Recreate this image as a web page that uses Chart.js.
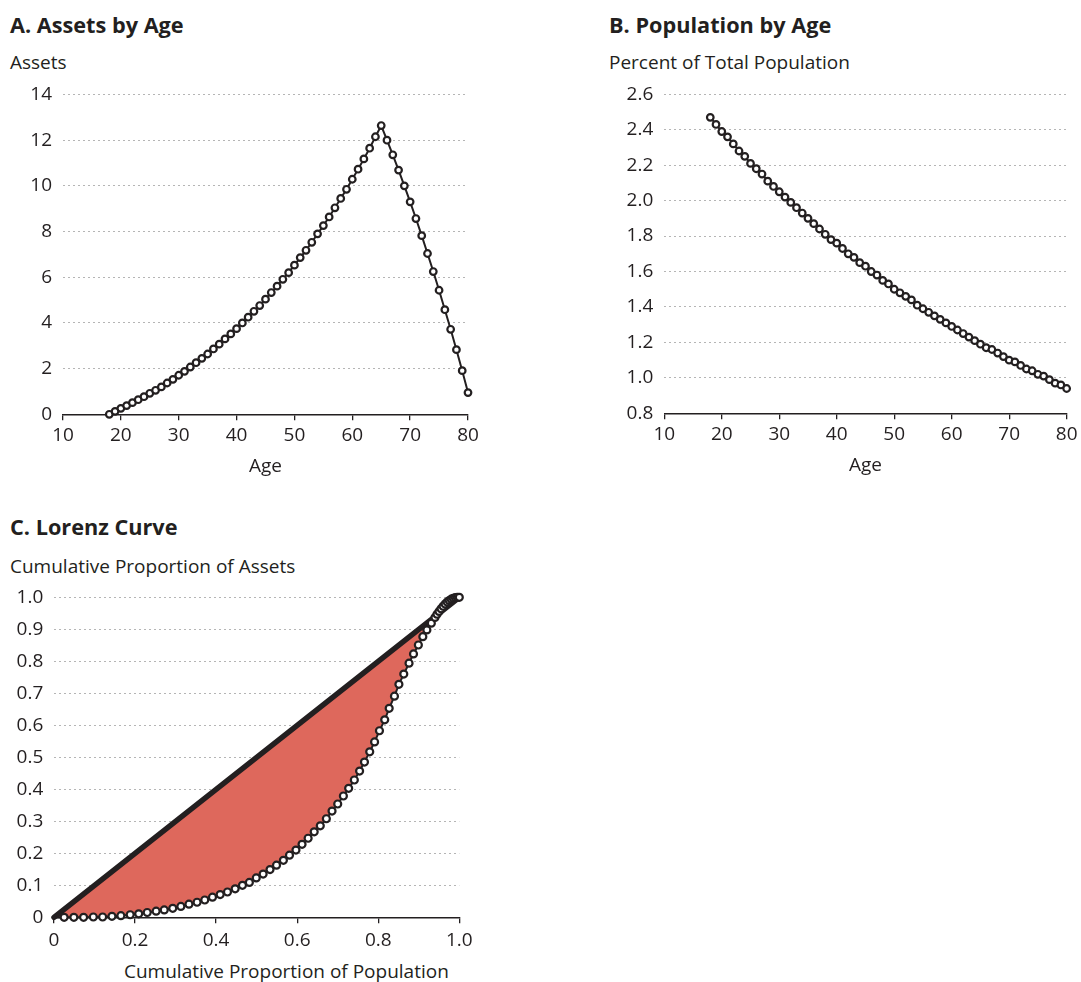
<!DOCTYPE html>
<html>
<head>
<meta charset="utf-8">
<script src="https://cdn.jsdelivr.net/npm/chart.js@4.4.1/dist/chart.umd.min.js"></script>
<style>
  html, body { margin:0; padding:0; background:#fff; }
  body { width:1081px; height:982px; position:relative; overflow:hidden; font-family:'Open Sans', sans-serif; color:#231f20; }
  .t { position:absolute; white-space:nowrap; line-height:26px; }
  .h { font-weight:700; font-size:21.7px; }
  .s { font-size:19px; }
  .box { position:absolute; }
</style>
</head>
<body>
<div class="t h" style="left:10px; top:12px;">A. Assets by Age</div>
<div class="t s" style="left:10px; top:49px;">Assets</div>
<div class="t h" style="left:609px; top:12px;">B. Population by Age</div>
<div class="t s" style="left:609px; top:49px;">Percent of Total Population</div>
<div class="t h" style="left:10px; top:514px;">C. Lorenz Curve</div>
<div class="t s" style="left:10px; top:553px;">Cumulative Proportion of Assets</div>
<div class="t s" style="left:124px; top:958px;">Cumulative Proportion of Population</div>

<div class="box" style="left:0px; top:80px; width:490px; height:410px;"><canvas id="cA"></canvas></div>
<div class="box" style="left:600px; top:80px; width:481px; height:410px;"><canvas id="cB"></canvas></div>
<div class="box" style="left:0px; top:580px; width:490px; height:377.3px;"><canvas id="cC"></canvas></div>

<script>
// ---------- Data ----------
const ages = [18,19,20,21,22,23,24,25,26,27,28,29,30,31,32,33,34,35,36,37,38,39,40,41,42,43,44,45,46,47,48,49,
  50,51,52,53,54,55,56,57,58,59,60,61,62,63,64,65,66,67,68,69,70,71,72,73,74,75,76,77,78,79,80];

const assets = [0,0.13,0.26,0.38,0.51,0.64,0.77,0.92,1.05,1.2,1.37,1.53,1.71,1.88,2.07,2.26,2.45,2.64,2.86,3.07,
  3.3,3.52,3.75,4.0,4.25,4.51,4.76,5.04,5.33,5.61,5.91,6.2,6.53,6.86,7.18,7.53,7.9,8.26,8.64,9.04,9.45,9.85,
  10.29,10.73,11.18,11.65,12.15,12.64,12.0,11.36,10.69,10.0,9.3,8.57,7.82,7.04,6.25,5.43,4.58,3.72,2.83,1.91,0.95];

const population = [2.47,2.43,2.39,2.36,2.32,2.28,2.25,2.21,2.18,2.15,2.11,2.08,2.05,2.02,1.99,1.96,1.93,1.90,
  1.87,1.84,1.81,1.78,1.76,1.73,1.70,1.68,1.65,1.63,1.60,1.58,1.55,1.53,1.50,1.48,1.46,1.44,1.41,1.39,1.37,1.35,
  1.33,1.31,1.29,1.27,1.25,1.23,1.21,1.19,1.17,1.16,1.14,1.12,1.10,1.09,1.07,1.05,1.04,1.02,1.01,0.99,0.97,0.96,0.94];

const lorenzX = [0,0.025,0.049,0.073,0.097,0.120,0.143,0.165,0.188,0.209,0.230,0.252,0.272,0.293,0.313,0.333,
  0.353,0.372,0.391,0.410,0.428,0.447,0.465,0.482,0.499,0.516,0.533,0.549,0.566,0.581,0.597,0.612,0.627,0.642,
  0.657,0.672,0.686,0.700,0.714,0.727,0.741,0.754,0.766,0.779,0.791,0.803,0.816,0.827,0.840,0.851,0.863,0.876,
  0.887,0.899,0.910,0.920,0.931,0.940,0.945,0.950,0.955,0.960,0.965,0.970,0.975,0.980,0.985,0.990,0.995,1.0];
const lorenzY = [0,0,0,0,0.001,0.001,0.003,0.005,0.008,0.011,0.015,0.019,0.023,0.028,0.034,0.041,
  0.047,0.054,0.063,0.071,0.079,0.089,0.100,0.109,0.123,0.135,0.149,0.163,0.178,0.194,0.210,0.228,0.247,0.267,
  0.286,0.308,0.332,0.354,0.379,0.403,0.429,0.457,0.485,0.517,0.548,0.583,0.617,0.653,0.691,0.728,0.760,0.794,
  0.823,0.851,0.877,0.898,0.919,0.937,0.947,0.956,0.964,0.972,0.979,0.985,0.990,0.994,0.997,0.999,1.0,1.0];

const equalityX = [0, 1];
const equalityY = [0, 1];

const ticksA_x = {min:10, max:80, step:10};
const ticksA_y = {min:0, max:14, step:2};
const ticksB_y = {min:0.8, max:2.6, step:0.2};
const ticksC = {min:0, max:1, stepX:0.2, stepY:0.1};

// ---------- Styles ----------
const INK = '#231f20';
const GRID = '#b5b5b5';
const FONT = "'Open Sans', sans-serif";
const RED = '#de685c';
const tickFont = {family: FONT, size: 19};

function pts(xs, ys) { return xs.map((x, i) => ({x: x, y: ys[i]})); }

function xScale(min, max, step, fmt, title, fitH, pad) {
  return {
    type: 'linear', min: min, max: max,
    afterFit: s => { s.height = fitH; },
    ticks: {stepSize: step, color: INK, font: tickFont, padding: pad, callback: fmt, maxRotation: 0, autoSkip: false},
    grid: {display: true, drawOnChartArea: false, drawTicks: true, tickLength: 6, color: INK, lineWidth: 1.3},
    border: {display: true, color: INK, width: 1.5},
    title: title ? {display: true, text: title, color: INK, font: {family: FONT, size: 19}, padding: 0} : {display: false}
  };
}
function yScale(min, max, step, fmt, fitW, pad) {
  return {
    type: 'linear', min: min, max: max,
    afterFit: s => { s.width = fitW; s.paddingTop = 0; s.paddingBottom = 0; },
    ticks: {stepSize: step, color: INK, font: tickFont, padding: pad, callback: fmt, autoSkip: false},
    grid: {color: GRID, lineWidth: 1, drawTicks: false},
    border: {display: false, dash: [2, 3]}
  };
}
const baseOpts = (layoutPad, scales) => ({
  responsive: true, maintainAspectRatio: false, animation: false, events: [],
  layout: {padding: layoutPad},
  plugins: {legend: {display: false}, tooltip: {enabled: false}, filler: {drawTime: 'beforeDatasetsDraw'}},
  scales: scales
});
const markerDS = (data) => ({
  data: data, borderColor: INK, borderWidth: 2, pointRadius: 3.3, pointBorderWidth: 2.2,
  pointBackgroundColor: '#fff', pointBorderColor: INK, fill: false, tension: 0, clip: false
});

// ---------- Chart A ----------
new Chart(document.getElementById('cA'), {
  type: 'line',
  data: {datasets: [markerDS(pts(ages, assets))]},
  options: baseOpts({left: 0, right: 22, top: 14.5, bottom: 11.7}, {
    x: xScale(ticksA_x.min, ticksA_x.max, ticksA_x.step, v => String(v), 'Age', 64, 3.5),
    y: yScale(ticksA_y.min, ticksA_y.max, ticksA_y.step, v => String(v), 63, 11)
  })
});

// ---------- Chart B ----------
new Chart(document.getElementById('cB'), {
  type: 'line',
  data: {datasets: [markerDS(pts(ages, population))]},
  options: baseOpts({left: 0, right: 11.7, top: 14.3, bottom: 12.7}, {
    x: xScale(ticksA_x.min, ticksA_x.max, ticksA_x.step, v => String(v), 'Age', 64, 3.5),
    y: yScale(ticksB_y.min, ticksB_y.max, ticksB_y.step, v => v.toFixed(1), 64.3, 11)
  })
});

// ---------- Chart C ----------
const fmtC = v => (Math.abs(v) < 1e-9 ? '0' : v.toFixed(1));
new Chart(document.getElementById('cC'), {
  type: 'line',
  data: {datasets: [
    Object.assign(markerDS(pts(lorenzX, lorenzY)), {
      pointRadius: ctx => (ctx.dataIndex === 0 ? 0 : 3.5),
      backgroundColor: RED,
      fill: {target: 1, above: 'rgba(0,0,0,0)', below: RED}
    }),
    {data: pts(equalityX, equalityY), borderColor: INK, borderWidth: 5.5, pointRadius: 0,
     borderCapStyle: 'round', fill: false, clip: false}
  ]},
  options: baseOpts({left: 0, right: 30.7, top: 17.3, bottom: 0}, {
    x: xScale(ticksC.min, ticksC.max, ticksC.stepX, fmtC, null, 40, 6),
    y: yScale(ticksC.min, ticksC.max, ticksC.stepY, fmtC, 54, 10.7)
  })
});
</script>
</body>
</html>
